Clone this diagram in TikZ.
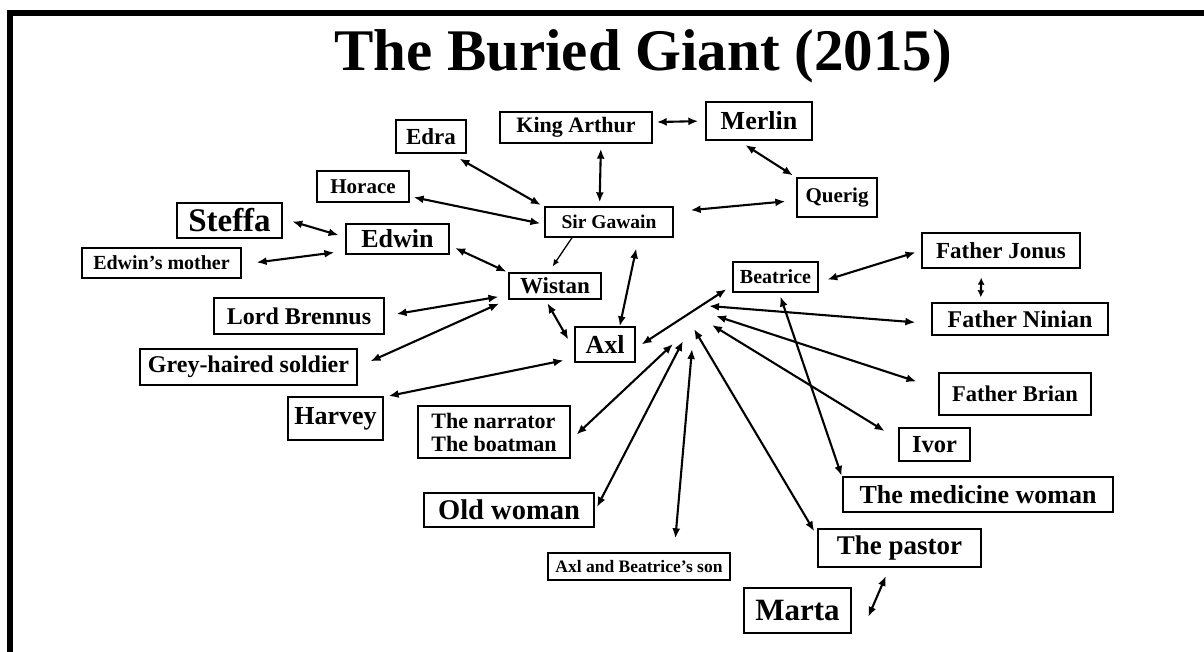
\documentclass[tikz,border=0pt]{standalone}
\usepackage{fontspec}
\setmainfont{Liberation Serif}
\usetikzlibrary{arrows.meta}
\tikzset{
  pers/.style={draw, line width=1.4pt, inner sep=0pt, font=\fontsize{#1}{#1}\selectfont\bfseries},
  rel/.style={<->, >={Latex[length=10pt,width=8pt]}, line width=2.1pt, shorten <=4pt, shorten >=4pt},
}
\begin{document}
\begin{tikzpicture}[x=1pt,y=-1pt]
\useasboundingbox (0,0) rectangle (1204,652);
\draw[line width=6pt] (10,652) -- (10,13) -- (1204,13);
\node[font=\fontsize{59}{59}\selectfont\bfseries, anchor=base] (title) at (643,71) {The Buried Giant (2015)};

\node[pers=23, minimum width=70pt, minimum height=33pt] (edra) at (431,136.5) {Edra};
\node[pers=22, minimum width=152pt, minimum height=31pt] (arthur) at (576,127.5) {King Arthur};
\node[pers=26, minimum width=106pt, minimum height=38pt] (merlin) at (759,121) {Merlin};
\node[pers=21, minimum width=92pt, minimum height=31pt] (horace) at (363,186.5) {Horace};
\node[pers=21, minimum width=80pt, minimum height=39pt] (querig) at (837,197.5) {Querig};
\node[pers=19.5, minimum width=128pt, minimum height=30pt] (gawain) at (609,222) {Sir Gawain};
\node[pers=33, minimum width=105pt, minimum height=35pt] (steffa) at (229.5,220.5) {Steffa};
\node[pers=26, minimum width=103pt, minimum height=30pt] (edwin) at (397.5,239) {Edwin};
\node[pers=20, minimum width=159pt, minimum height=30pt] (mother) at (161.5,263) {Edwin’s mother};
\node[pers=23, minimum width=92pt, minimum height=26pt] (wistan) at (555,286) {Wistan};
\node[pers=24, minimum width=170pt, minimum height=36pt] (brennus) at (299,316) {Lord Brennus};
\node[pers=24, minimum width=217pt, minimum height=36pt] (soldier) at (248.5,367) {Grey-haired soldier};
\node[pers=26, minimum width=95pt, minimum height=43pt] (harvey) at (335.5,418.5) {Harvey};
\node[pers=26, minimum width=60pt, minimum height=35pt] (axl) at (605,344.5) {Axl};
\node[pers=20, minimum width=85pt, minimum height=30pt] (beatrice) at (775.5,277) {Beatrice};
\node[pers=23, minimum width=158pt, minimum height=35pt] (jonus) at (1001,250.5) {Father Jonus};
\node[pers=24, minimum width=176pt, minimum height=32pt] (ninian) at (1020,319) {Father Ninian};
\node[pers=22.5, minimum width=152pt, minimum height=42pt] (brian) at (1015,394) {Father Brian};
\node[pers=24.5, minimum width=71pt, minimum height=33pt] (ivor) at (934.5,444.5) {Ivor};
\node[pers=22, font=\fontsize{22}{23}\selectfont\bfseries, align=left, minimum width=152pt, minimum height=52pt] (narrator) at (494,432) {The narrator\\The boatman};
\node[pers=28.5, minimum width=170pt, minimum height=34pt] (oldwoman) at (509,510) {Old woman};
\node[pers=17.5, minimum width=182pt, minimum height=27pt] (son) at (639,566.5) {Axl and Beatrice’s son};
\node[pers=26, minimum width=270pt, minimum height=35pt] (medicine) at (978,494.5) {The medicine woman};
\node[pers=27, minimum width=163pt, minimum height=38pt] (pastor) at (899.5,548) {The pastor};
\node[pers=31, minimum width=107pt, minimum height=45pt] (marta) at (797.5,610.5) {Marta};

\coordinate (hnin) at (709,306);
\coordinate (hbri) at (716,316);
\coordinate (hivo) at (712,325);
\coordinate (hpas) at (694,329);
\coordinate (hnar) at (673,344);
\coordinate (hold) at (683,341);
\coordinate (hson) at (692,349);

\draw[rel, shorten >=7pt] (arthur.4) -- (merlin.180);
\draw[rel, shorten <=5pt] (arthur.-33) -- (gawain.121);
\draw[rel, shorten <=8pt] (merlin.-136) -- (querig.154);
\draw[rel, shorten <=10pt] (edra.-41) -- (gawain.167);
\draw[rel] (horace.-12) -- (gawain.182);
\draw[rel, shorten <=17pt, shorten >=11pt] (gawain.9) -- (querig.184);
\draw[rel, shorten <=10pt, shorten >=7pt] (steffa.2) -- (edwin.178);
\draw[rel, shorten <=15pt, shorten >=11pt] (mother.-1) -- (edwin.193);
\draw[rel, shorten <=6pt, shorten >=2pt] (edwin.-7) -- (wistan.164);
\draw[-{Latex[length=7pt,width=6pt]}, line width=1.3pt, shorten >=7pt] (gawain.-157) -- (wistan.115);
\draw[rel, shorten <=12pt, shorten >=10pt] (brennus.0) -- (wistan.191);
\draw[rel, shorten <=14pt, shorten >=10pt] (soldier.0) -- (wistan.196);
\draw[rel, shorten >=12pt] (wistan.-125) -- (axl.190);
\draw[rel, shorten <=5pt, shorten >=11pt] (harvey.24) -- (axl.204);
\draw[rel, shorten <=11pt, shorten >=0pt] (gawain.-28) -- (axl.51);
\draw[rel, shorten <=7pt, shorten >=7pt] (axl.-7) -- (beatrice.191);
\draw[rel, shorten <=9pt, shorten >=6pt] (beatrice.-7) -- (jonus.180);
\draw[rel, >={Latex[length=7pt,width=7pt]}, shorten <=9pt, shorten >=5pt] (jonus.-137) -- (ninian.157);
\draw[rel, shorten >=2pt] (beatrice.-77) -- (medicine.173);

\draw[rel, shorten <=0pt, shorten >=16pt] (hnin) -- (ninian.183);
\draw[rel, shorten <=0pt, shorten >=23pt] (hbri) -- (brian.176);
\draw[rel, shorten <=0pt, shorten >=16pt] (hivo) -- (ivor.172);
\draw[rel, shorten <=0pt, shorten >=6pt] (hpas) -- (pastor.172);
\draw[rel, shorten <=0pt, shorten >=8pt] (hnar) -- (narrator.-6);
\draw[rel, shorten <=0pt, shorten >=5pt] (hold) -- (oldwoman.-1);
\draw[rel, shorten <=0pt, shorten >=14pt] (hson) -- (son.22);
\draw[rel, shorten <=9pt] (pastor.-117) -- ([xshift=15pt,yshift=-10pt]marta.east);
\end{tikzpicture}
\end{document}
